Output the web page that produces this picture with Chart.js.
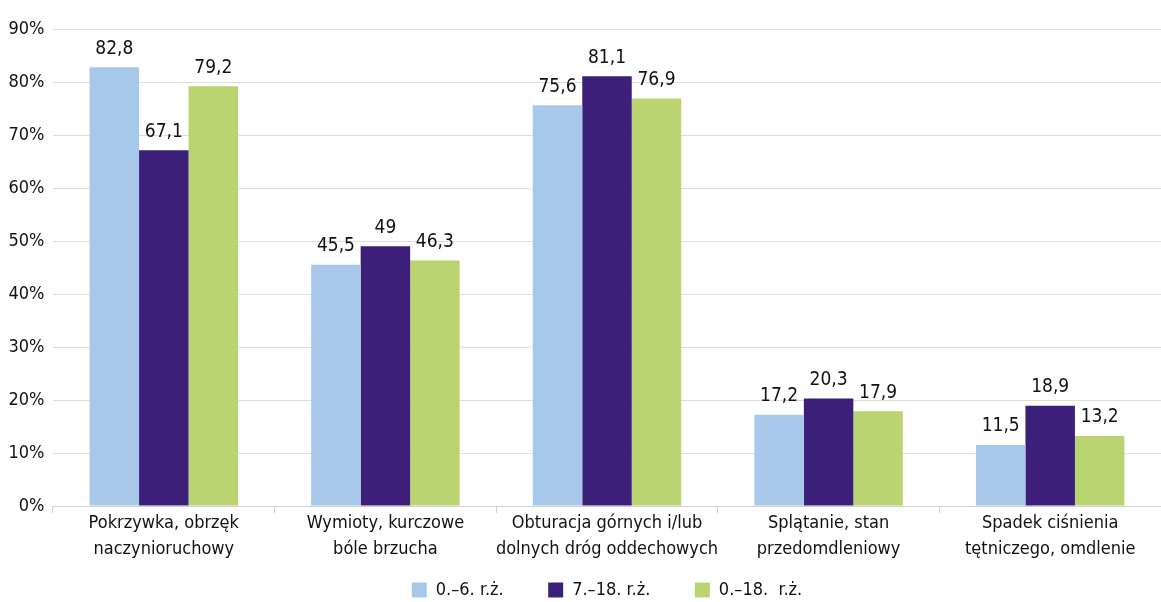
<!DOCTYPE html>
<html>
<head>
<meta charset="utf-8">
<script src="https://cdn.jsdelivr.net/npm/chart.js@4"></script>
<style>
  html, body { margin: 0; padding: 0; background: #fff; }
  #wrap { width: 1161px; height: 602px; position: relative; }
</style>
</head>
<body>
<div id="wrap"><canvas id="chart"></canvas></div>
<script>
var categories = [
    ['Pokrzywka, obrzęk', 'naczynioruchowy'],
    ['Wymioty, kurczowe', 'bóle brzucha'],
    ['Obturacja górnych i/lub', 'dolnych dróg oddechowych'],
    ['Splątanie, stan', 'przedomdleniowy'],
    ['Spadek ciśnienia', 'tętniczego, omdlenie']
];
var seriesNames = ['0.–6. r.ż.', '7.–18. r.ż.', '0.–18.  r.ż.'];
var young = [82.8, 45.5, 75.6, 17.2, 11.5];
var older = [67.1, 49, 81.1, 20.3, 18.9];
var all = [79.2, 46.3, 76.9, 17.9, 13.2];
var yTicks = [0, 10, 20, 30, 40, 50, 60, 70, 80, 90];

// condensed face, passed through the weight slot of the font string
var FONT = '"DejaVu Sans Condensed", "DejaVu Sans", sans-serif';
var STRETCH = 'condensed';

var valueLabels = {
    id: 'valueLabels',
    afterDatasetsDraw: function (chart) {
        var ctx = chart.ctx;
        ctx.save();
        ctx.font = STRETCH + ' 19px ' + FONT;
        ctx.fillStyle = '#111';
        ctx.textAlign = 'center';
        ctx.textBaseline = 'bottom';
        chart.data.datasets.forEach(function (ds, i) {
            chart.getDatasetMeta(i).data.forEach(function (bar, j) {
                var txt = String(ds.data[j]).replace('.', ',');
                ctx.fillText(txt, bar.x, bar.y - 9);
            });
        });
        ctx.restore();
    }
};

var ctx = document.getElementById('chart').getContext('2d');
new Chart(ctx, {
    type: 'bar',
    data: {
        labels: categories,
        datasets: [
            { label: seriesNames[0], data: young, backgroundColor: '#a8c8ea' },
            { label: seriesNames[1], data: older, backgroundColor: '#3b1f78' },
            { label: seriesNames[2], data: all, backgroundColor: '#b9d471' }
        ]
    },
    options: {
        responsive: true,
        maintainAspectRatio: false,
        animation: false,
        datasets: {
            bar: { categoryPercentage: 0.67, barPercentage: 1 }
        },
        layout: { padding: { top: 29, right: 0, left: 0, bottom: -7 } },
        plugins: {
            legend: {
                position: 'bottom',
                fullSize: false,
                labels: {
                    boxWidth: 15,
                    boxHeight: 15,
                    padding: 4,
                    color: '#111',
                    font: { family: FONT, weight: STRETCH, size: 18 },
                    generateLabels: function (chart) {
                        var items = Chart.defaults.plugins.legend.labels.generateLabels(chart);
                        items.forEach(function (it, i) {
                            if (i < items.length - 1) it.text += '\u2003\u2003\u2002';
                        });
                        return items;
                    }
                }
            },
            tooltip: { enabled: false }
        },
        scales: {
            x: {
                afterFit: function (axis) { axis.height = 71; },
                grid: {
                    offset: true,
                    drawOnChartArea: false,
                    drawTicks: true,
                    tickLength: 7,
                    color: '#d0d0d0'
                },
                border: { color: '#d0d0d0' },
                ticks: {
                    color: '#111',
                    padding: -3,
                    maxRotation: 0,
                    autoSkip: false,
                    font: { family: FONT, weight: STRETCH, size: 18, lineHeight: 1.45 }
                }
            },
            y: {
                min: 0,
                max: 90,
                afterBuildTicks: function (axis) {
                    axis.ticks = yTicks.map(function (v) { return { value: v }; });
                },
                grid: { color: '#dedede', drawTicks: false },
                border: { display: false },
                ticks: {
                    color: '#111',
                    padding: 8.5,
                    font: { family: FONT, weight: STRETCH, size: 18 },
                    callback: function (v) { return v + '%'; }
                }
            }
        }
    },
    plugins: [valueLabels]
});
</script>
</body>
</html>
